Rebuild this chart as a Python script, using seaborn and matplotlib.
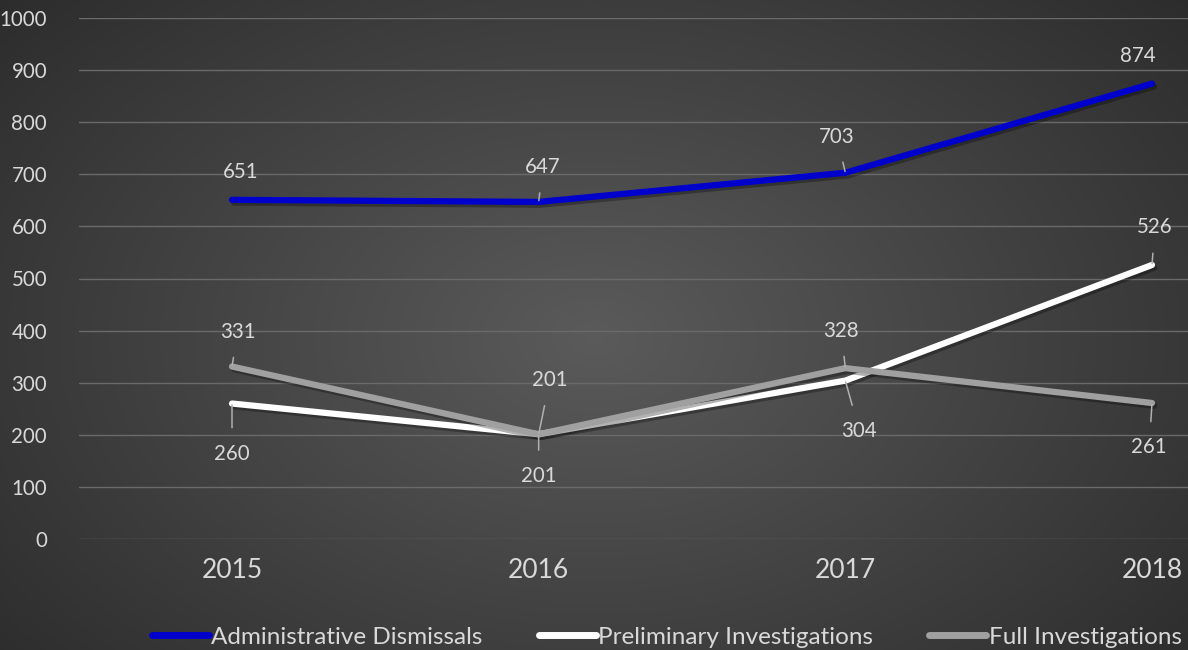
import numpy as np
import pandas as pd
import seaborn as sns
import matplotlib.pyplot as plt
import matplotlib.patheffects as pe

years = ["2015", "2016", "2017", "2018"]
admin_dismissals = [651, 647, 703, 874]
preliminary = [260, 201, 304, 526]
full_inv = [331, 201, 328, 261]
series_names = ["Administrative Dismissals", "Preliminary Investigations", "Full Investigations"]
series_values = [admin_dismissals, preliminary, full_inv]
series_colors = ["#0000CC", "#FFFFFF", "#A0A0A0"]
y_ticks = list(range(0, 1001, 100))

# label offsets (points) from each data point, with leader lines where Excel drew them
label_offsets = {
    0: [(6, 20, False), (3, 25, True), (-6, 26, True), (-10, 20, False)],
    1: [(0, -36, True), (0, -30, True), (10, -36, True), (2, 27, True)],
    2: [(4, 25, True), (8, 39, True), (-3, 27, True), (-2, -32, True)],
}

sns.set_theme(style="dark")
plt.rcParams["font.family"] = ["Lato", "DejaVu Sans"]

fig = plt.figure(figsize=(11.88, 6.5), dpi=100)

# radial background
bg = fig.add_axes([0, 0, 1, 1], zorder=0)
h, w = 650, 1188
yy, xx = np.mgrid[0:h, 0:w]
r = np.sqrt(((xx - w * 0.5) / (w * 0.62)) ** 2 + ((yy - h * 0.52) / (h * 0.75)) ** 2)
val = np.clip(0.355 - 0.17 * r, 0.16, 0.36)
bg.imshow(np.dstack([val, val, val]), aspect="auto", extent=[0, 1, 0, 1], interpolation="bilinear")
bg.set_axis_off()

ax_left = 79 / w
ax_bottom = (h - 539) / h
ax_w = (1188 - 79) / w
ax_h = (539 - 18) / h
ax = fig.add_axes([ax_left, ax_bottom, ax_w, ax_h], zorder=1)
ax.patch.set_alpha(0)

rows = []
for name, vals in zip(series_names, series_values):
    for i, v in enumerate(vals):
        rows.append({"idx": i, "value": v, "series": name})
df = pd.DataFrame(rows)

shadow = [pe.SimpleLineShadow(offset=(1.5, -2), shadow_color="black", alpha=0.3), pe.Normal()]
sns.lineplot(data=df, x="idx", y="value", hue="series", hue_order=series_names,
             palette=series_colors, linewidth=4.5, ax=ax, legend=False,
             solid_capstyle="round", solid_joinstyle="round")
lines = ax.get_lines()
for ln in lines:
    ln.set_path_effects(shadow)
lines[0].set_zorder(5)
lines[1].set_zorder(3)
lines[2].set_zorder(4)

ax.set_xlim(-(232 - 79) / 306.67, 3 + (1188 - 1152) / 306.67)
ax.set_ylim(0, 1000)
ax.set_yticks(y_ticks)
ax.set_xticks(range(len(years)))
ax.set_xticklabels(years)
ax.tick_params(axis="y", colors="#D9D9D9", labelsize=14.8, length=0, pad=23)
ax.tick_params(axis="x", colors="#D9D9D9", labelsize=19, length=0, pad=14)
ax.set_xlabel("")
ax.set_ylabel("")
ax.grid(axis="y", color="#6A6A6A", linewidth=1)
ax.grid(axis="x", visible=False)
for s in ax.spines.values():
    s.set_visible(False)

for si, vals in enumerate(series_values):
    for i, v in enumerate(vals):
        dx, dy, leader = label_offsets[si][i]
        ap = dict(arrowstyle="-", color="#B0B0B0", lw=1.1, shrinkA=9, shrinkB=1) if leader else None
        ax.annotate(str(v), xy=(i, v), xytext=(dx, dy), textcoords="offset points",
                    ha="center", va="center", fontsize=14.8, color="#D9D9D9",
                    arrowprops=ap, zorder=6)

handles = [plt.Line2D([], [], color=c, lw=5, solid_capstyle="round") for c in series_colors]
leg = fig.legend(handles, series_names, loc="lower right", bbox_to_anchor=(1.013, -0.030),
                 ncol=3, frameon=False, fontsize=17.5, handlelength=2.35, handletextpad=0.1,
                 columnspacing=2.3, labelcolor="#D9D9D9")

fig.savefig("out.png", dpi=100)
